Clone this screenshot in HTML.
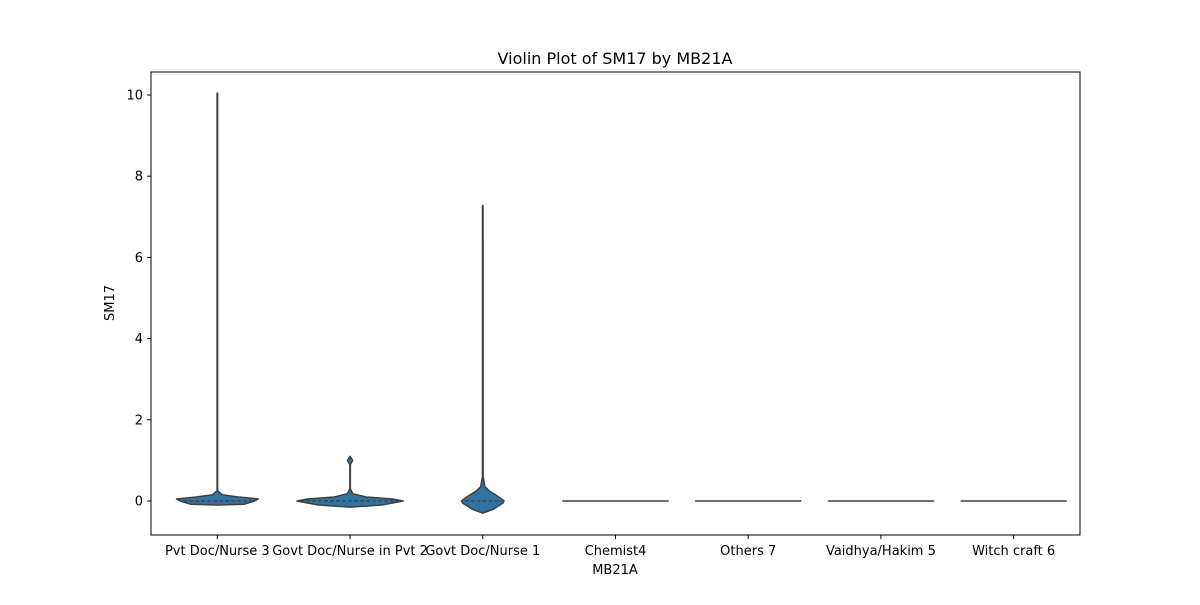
<!DOCTYPE html>
<html><head><meta charset="utf-8"><style>
body{margin:0;background:#fff;font-family:"Liberation Sans","DejaVu Sans",sans-serif;}
text{font-family:"DejaVu Sans","Liberation Sans",sans-serif;font-size:13px;fill:#000}
</style></head><body>
<svg id="chart" width="1200" height="600" xmlns="http://www.w3.org/2000/svg">
<rect width="1200" height="600" fill="#fff"/>
<text x="615" y="64" text-anchor="middle" style="font-size:16px">Violin Plot of SM17 by MB21A</text>
<g id="marks"></g>
<g id="axes"></g>
<rect x="151" y="72" width="929" height="463" fill="none" stroke="#000" stroke-width="1"/>
<text x="615" y="574" text-anchor="middle">MB21A</text>
<text transform="translate(114,303) rotate(-90)" text-anchor="middle">SM17</text>
</svg>
<script>
const categories=["Pvt Doc/Nurse 3","Govt Doc/Nurse in Pvt 2","Govt Doc/Nurse 1","Chemist4","Others 7","Vaidhya/Hakim 5","Witch craft 6"];
const yTicks=[0,2,4,6,8,10];
const profVals=[
 [-0.1,-0.08,0,0.05,0.1,0.15,0.25,10.03,10.05],
 [-0.15,-0.1,0,0.05,0.1,0.18,0.3,0.9,1.0,1.08,1.1],
 [-0.3,-0.2,-0.05,0,0.1,0.25,0.35,0.6,7.25,7.28],
 [0],[0],[0],[0]];
const profDens=[
 [0,0.5,0.7,0.77,0.4,0.1,0.005,0.005,0],
 [0,0.6,1,0.8,0.3,0.05,0.005,0.005,0.05,0.01,0],
 [0,0.2,0.38,0.4,0.3,0.12,0.04,0.006,0.005,0],
 [1],[1],[1],[1]];
const X0=151,X1=1080,NS="http://www.w3.org/2000/svg";
const band=(X1-X0)/categories.length;
const xc=i=>X0+band*(i+0.5);
const y=v=>501-v*40.6;
const halfMax=band*0.4;
const marks=document.getElementById('marks'),axes=document.getElementById('axes');
function mk(t,a,p){const e=document.createElementNS(NS,t);for(const k in a)e.setAttribute(k,a[k]);p.appendChild(e);return e;}
yTicks.forEach(t=>{
 const l=mk('line',{x1:X0-4,x2:X0,y1:y(t),y2:y(t),stroke:'#000'},axes);
 
 
 const tx=mk('text',{x:X0-8,y:y(t)+4.5,'text-anchor':'end'},axes);tx.textContent=t;
 
 
});
categories.forEach((c,i)=>{
 const cx=xc(i);
 const l=mk('line',{x1:cx,x2:cx,y1:535,y2:539,stroke:'#000'},axes);
 
 
 const tx=mk('text',{x:cx,y:555,'text-anchor':'middle'},axes);tx.textContent=c;
 
 
 const v=profVals[i],d=profDens[i];
 if(v.length===1){
  const f=mk('line',{x1:cx-halfMax*d[0],x2:cx+halfMax*d[0],y1:y(v[0]),y2:y(v[0]),stroke:'#3f3f3f','stroke-width':1.5},marks);
  
  
  return;
 }
 let pts=[];
 for(let k=0;k<v.length;k++)pts.push((cx+halfMax*d[k])+','+y(v[k]));
 for(let k=v.length-1;k>=0;k--)pts.push((cx-halfMax*d[k])+','+y(v[k]));
 const p=mk('polygon',{points:pts.join(' '),fill:'#3274a1',stroke:'#3f3f3f','stroke-width':1.5,'stroke-linejoin':'round'},marks);
 
 
 const k0=v.indexOf(0);const w=halfMax*d[k0];
 const q=mk('line',{x1:cx-w+3,x2:cx+w-3,y1:y(0),y2:y(0),stroke:'#3f3f3f','stroke-width':1.2,'stroke-dasharray':'4 2'},marks);
 
 
});
</script>
</body></html>
